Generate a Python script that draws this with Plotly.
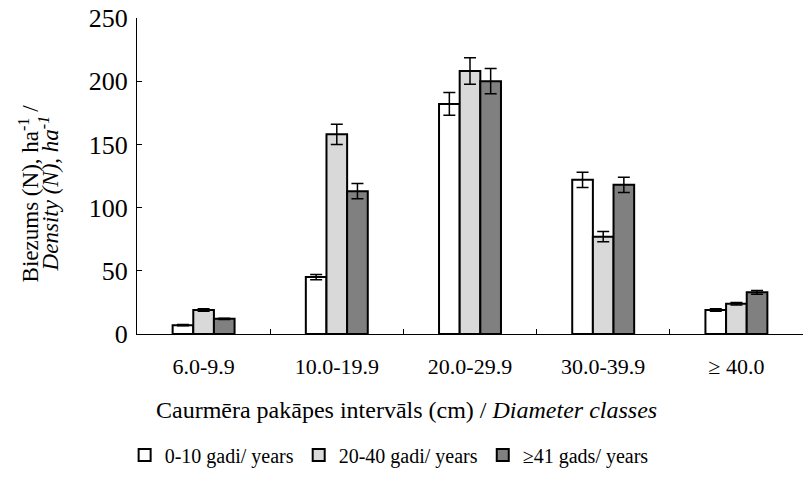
import plotly.graph_objects as go

categories = ["6.0-9.9", "10.0-19.9", "20.0-29.9", "30.0-39.9", "≥ 40.0"]
series_names = ["0-10 gadi/ years", "20-40 gadi/ years", "≥41 gads/ years"]
young = [7, 45, 182, 122, 19]
young_err = [0.5, 2, 9, 6, 1]
middle = [19, 158, 208, 77, 24]
middle_err = [1, 8, 10.5, 4, 1]
old = [12, 113, 200, 118, 33]
old_err = [0.5, 6, 10, 6, 1.5]
colors = ["#ffffff", "#d9d9d9", "#808080"]
y_title_lines = ["Biezums (N), ha<sup>-1</sup> /", "<i>Density (N), ha<sup>-1</sup></i>"]
x_title = "Caurmēra pakāpes intervāls (cm) / <i>Diameter classes</i>"

FONT = "Times New Roman"

fig = go.Figure()
for name, vals, errs, col in zip(series_names, [young, middle, old],
                                 [young_err, middle_err, old_err], colors):
    fig.add_trace(go.Bar(
        x=categories, y=vals, name=name,
        marker=dict(color=col, line=dict(color="#000000", width=2)),
        error_y=dict(type="data", array=errs, visible=True, color="#000000",
                     thickness=1.5, width=6),
    ))

for text, shift in zip(y_title_lines, [-108, -88]):
    fig.add_annotation(text=text, xref="paper", yref="paper", x=0, y=0.445,
                       xshift=shift, xanchor="center", yanchor="middle",
                       textangle=-90, showarrow=False,
                       font=dict(family=FONT, size=23, color="#000000"))

fig.add_annotation(text=x_title, xref="paper", yref="paper", x=0.404, y=0,
                   yshift=-76, xanchor="center", yanchor="middle",
                   showarrow=False, font=dict(family=FONT, size=24, color="#000000"))

fig.update_layout(
    width=804, height=481,
    paper_bgcolor="white", plot_bgcolor="white",
    font=dict(family=FONT, color="#000000", size=20),
    barmode="group", bargap=0.535, bargroupgap=0,
    margin=dict(l=137, r=1, t=18, b=147, autoexpand=False),
    showlegend=True,
    legend=dict(orientation="h", xref="container", yref="container",
                x=0.484, xanchor="center", y=0.054, yanchor="middle",
                font=dict(family=FONT, size=20), itemwidth=30,
                traceorder="normal"),
    xaxis=dict(
        automargin=False,
        showline=True, linecolor="#000000", linewidth=1.2,
        ticks="inside", tickson="boundaries", ticklen=5, tickcolor="#000000",
        tickfont=dict(family=FONT, size=22), ticklabelstandoff=12,
        showgrid=False,
    ),
    yaxis=dict(
        automargin=False,
        range=[0, 250], dtick=50,
        showline=True, linecolor="#000000", linewidth=1.2,
        ticks="inside", ticklen=5, tickcolor="#000000",
        tickfont=dict(family=FONT, size=26), ticklabelstandoff=3,
        ticklabeloverflow="allow",
        showgrid=False, zeroline=False,
    ),
)

fig.write_html("out.html", config={"displayModeBar": False},
               post_script="document.body.style.margin='0px';document.body.style.overflow='hidden';")
